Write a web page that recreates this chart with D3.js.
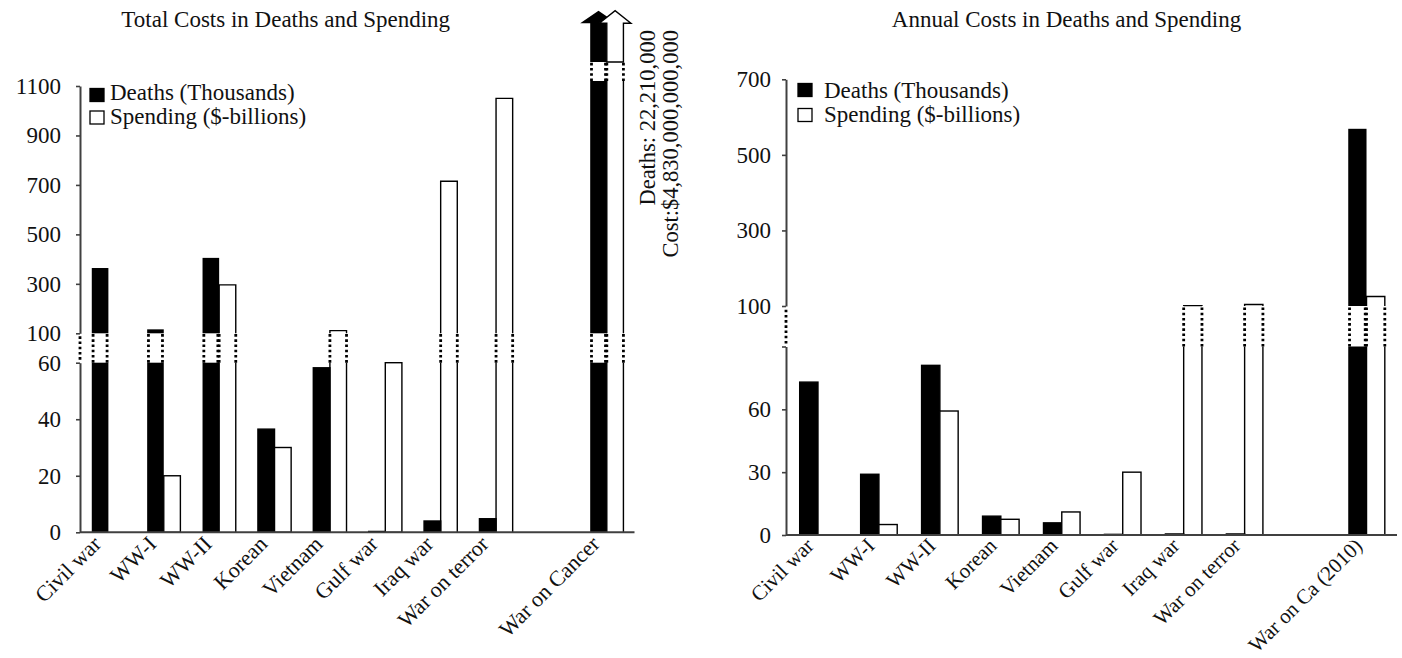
<!DOCTYPE html>
<html><head><meta charset="utf-8">
<script src="https://cdn.jsdelivr.net/npm/d3@7"></script>
<style>
html,body{margin:0;padding:0;background:#fff;}
svg{display:block;}
text{font-family:"Liberation Serif","Times New Roman",serif;fill:#111;}
</style></head><body>
<svg id="chart" width="1402" height="658"></svg>
<script>
// ---------------- data ----------------
const categoriesTotal  = ["Civil war","WW-I","WW-II","Korean","Vietnam","Gulf war","Iraq war","War on terror","War on Cancer"];
const categoriesAnnual = ["Civil war","WW-I","WW-II","Korean","Vietnam","Gulf war","Iraq war","War on terror","War on Ca (2010)"];
const totalDeaths    = [364, 116, 405, 36.5, 58.2, 0.3, 4, 4.8, 22210];
const totalSpending  = [0, 20, 296, 30, 111, 60, 715, 1050, 4830];
const annualDeaths   = [73, 29, 81, 9, 5.8, 0.3, 0.5, 0.5, 569];
const annualSpending = [0, 5, 59.2, 7.5, 11, 30, 101, 104, 125];
const totalTicksLower  = [0, 20, 40, 60];
const totalTicksUpper  = [100, 300, 500, 700, 900, 1100];
const annualTicksLower = [0, 30, 60];
const annualTicksUpper = [100, 300, 500, 700];
const legendLabels = ["Deaths (Thousands)", "Spending ($-billions)"];
const titles = ["Total Costs in Deaths and Spending", "Annual Costs in Deaths and Spending"];
const cancerNote = ["Deaths: 22,210,000", "Cost:$4,830,000,000,000"];

// ---------------- layout ----------------
const svg = d3.select("#chart");
const FONT = 23;
const FAMILY = '"Liberation Serif","Times New Roman",serif';

function drawChart(cfg) {
  const g = svg.append("g");
  const slots = cfg.categories.slice(0, 8).concat(["__gap"], cfg.categories.slice(8));
  const x = d3.scaleBand().domain(slots).range(cfg.xRange);
  const bw = x.bandwidth() * 0.3;
  const yL = d3.scaleLinear().domain(cfg.lowerDomain).range(cfg.lowerRange);
  const yU = d3.scaleLinear().domain(cfg.upperDomain).range(cfg.upperRange);
  const lowMax = cfg.lowerDomain[1], upMin = cfg.upperDomain[0], upMax = cfg.upperDomain[1];
  const dotted = (sel, xx, y1, y2) => sel.append("line")
      .attr("x1", xx).attr("x2", xx).attr("y1", y1).attr("y2", y2)
      .attr("stroke", "#000").attr("stroke-width", 2.8).attr("stroke-dasharray", "2.6,2.6");

  // title
  g.append("text").attr("x", cfg.titleX).attr("y", 27).attr("text-anchor", "middle")
    .style("font-size", FONT + "px").text(cfg.title);

  // bars
  const series = [
    { vals: cfg.deaths, fill: "#000", shift: -1 },
    { vals: cfg.spending, fill: "#fff", shift: 0 }
  ];
  const bars = g.append("g");
  series.forEach(s => {
    s.vals.forEach((v, i) => {
      const cat = cfg.categories[i];
      const x0 = x(cat) + x.bandwidth() / 2 + s.shift * bw;
      const x1 = x0 + bw;
      const black = s.fill === "#000";
      if (v <= lowMax) {
        bars.append("rect").attr("x", x0).attr("y", yL(v)).attr("width", bw)
          .attr("height", yL(0) - yL(v)).attr("fill", s.fill)
          .attr("stroke", "#000").attr("stroke-width", 1.4);
        return;
      }
      // lower part
      if (black) {
        bars.append("rect").attr("x", x0).attr("y", yL(lowMax)).attr("width", bw)
          .attr("height", yL(0) - yL(lowMax)).attr("fill", "#000");
      } else {
        bars.append("path").attr("d", `M${x0},${yL(0)}V${yL(lowMax)}M${x1},${yL(lowMax)}V${yL(0)}`)
          .attr("fill", "none").attr("stroke", "#000").attr("stroke-width", 1.4);
      }
      // break
      const dIn = black ? 1.3 : 0;
      dotted(bars, x0 + dIn, yL(lowMax), yU(upMin));
      dotted(bars, x1 - dIn, yL(lowMax), yU(upMin));
      // upper part
      const over = v > upMax;
      const top = over ? yU(upMax) - 5 : yU(v);
      if (black) {
        bars.append("rect").attr("x", x0).attr("y", top).attr("width", bw)
          .attr("height", yU(upMin) - top).attr("fill", "#000");
      } else {
        const d = over ? `M${x0},${yU(upMin)}V${top}M${x1},${top}V${yU(upMin)}`
                       : `M${x0},${yU(upMin)}V${top}H${x1}V${yU(upMin)}`;
        bars.append("path").attr("d", d).attr("fill", "none")
          .attr("stroke", "#000").attr("stroke-width", 1.4);
      }
      if (over) {
        const bot = top - 19, hb = top - 57.7, apex = top - 70.3;
        dotted(bars, x0 + dIn, top, bot);
        dotted(bars, x1 - dIn, top, bot);
        const ext = black ? 10 : 7.5;
        const cx = (x0 + x1) / 2;
        const pts = [[x0, bot], [x0, hb], [x0 - ext, hb], [cx, apex], [x1 + ext, hb], [x1, hb], [x1, bot]];
        bars.append("polygon").attr("points", pts.map(p => p.join(",")).join(" "))
          .attr("fill", s.fill).attr("stroke", "#000").attr("stroke-width", black ? 0 : 1.4)
          .attr("stroke-linejoin", "miter");
      }
    });
  });

  // y axis (two segments + dotted break)
  const ax = g.append("g").attr("transform", `translate(${cfg.axisX},0)`);
  const styleAxis = sel => {
    sel.selectAll("path.domain").attr("stroke", "#404040").attr("stroke-width", 2);
    sel.selectAll(".tick line").attr("stroke", "#404040").attr("stroke-width", 1.6);
    sel.selectAll(".tick text").style("font-size", FONT + "px")
      .style("font-family", FAMILY).attr("fill", "#111");
  };
  const lowerVals = cfg.lowerTicks.includes(lowMax) ? cfg.lowerTicks : cfg.lowerTicks.concat([lowMax]);
  ax.append("g").call(d3.axisLeft(yL).tickValues(lowerVals).tickSize(4).tickSizeOuter(0)
      .tickPadding(cfg.labelGap - 4).tickFormat(d => cfg.lowerTicks.includes(d) ? d3.format("d")(d) : ""))
    .call(styleAxis);
  ax.append("g").call(d3.axisLeft(yU).tickValues(cfg.upperTicks).tickSize(4).tickSizeOuter(0)
      .tickPadding(cfg.labelGap - 4).tickFormat(d3.format("d")))
    .call(styleAxis);
  ax.append("line").attr("x1", 0).attr("x2", 0).attr("y1", yL(lowMax) - 3).attr("y2", yU(upMin) + 3)
    .attr("stroke", "#000").attr("stroke-width", 2.8).attr("stroke-dasharray", "2.6,2.6");

  // x axis
  const xa = g.append("g").attr("transform", `translate(0,${yL(0)})`)
    .call(d3.axisBottom(x).tickSize(0).tickSizeOuter(0).tickFormat(d => d === "__gap" ? "" : d));
  xa.selectAll("path.domain").attr("stroke", "#404040").attr("stroke-width", 2)
    .attr("d", `M${cfg.axisX},0H${cfg.xRange[1]}`);
  xa.selectAll(".tick text")
    .style("font-size", cfg.xFont + "px").style("font-family", FAMILY)
    .attr("fill", "#111").attr("text-anchor", "end").attr("y", 0).attr("dy", 0)
    .attr("transform", `translate(${cfg.labelDx},${cfg.labelDy}) rotate(-45)`);

  // legend
  const lg = g.append("g");
  ["#000", "#fff"].forEach((f, k) => {
    lg.append("rect").attr("x", cfg.legend.sqX).attr("y", cfg.legend.sqY[k])
      .attr("width", 14).attr("height", 13).attr("fill", f)
      .attr("stroke", "#000").attr("stroke-width", 1.3);
    lg.append("text").attr("x", cfg.legend.textX).attr("y", cfg.legend.baseY[k])
      .style("font-size", FONT + "px").text(legendLabels[k]);
  });
  return { x, yL, yU };
}

const left = drawChart({
  categories: categoriesTotal, deaths: totalDeaths, spending: totalSpending,
  xRange: [80.7, 634.5], axisX: 80,
  lowerDomain: [0, 60], lowerRange: [532.3, 362.7],
  upperDomain: [100, 1100], upperRange: [333.3, 86],
  lowerTicks: totalTicksLower, upperTicks: totalTicksUpper, labelGap: 19,
  xFont: 22, labelDx: -6, labelDy: 13,
  title: titles[0], titleX: 285.7,
  legend: { sqX: 90, sqY: [88.5, 111], textX: 110, baseY: [100, 124] }
});

drawChart({
  categories: categoriesAnnual, deaths: annualDeaths, spending: annualSpending,
  xRange: [787.5, 1397], axisX: 786,
  lowerDomain: [0, 90], lowerRange: [535, 346.5],
  upperDomain: [100, 700], upperRange: [306, 79.3],
  lowerTicks: annualTicksLower, upperTicks: annualTicksUpper, labelGap: 15,
  xFont: 21, labelDx: -3, labelDy: 12,
  title: titles[1], titleX: 1066.5,
  legend: { sqX: 798, sqY: [83.5, 108.5], textX: 824, baseY: [98, 122] }
});

// note for the off-scale War on Cancer bars
const noteX = left.x("War on Cancer") + left.x.bandwidth();
cancerNote.forEach((t, k) => {
  svg.append("text")
    .attr("transform", `translate(${noteX + 20.5 + k * 23.3},30) rotate(-90)`)
    .attr("text-anchor", "end").style("font-size", "22.5px").text(t);
});
</script>
</body></html>
